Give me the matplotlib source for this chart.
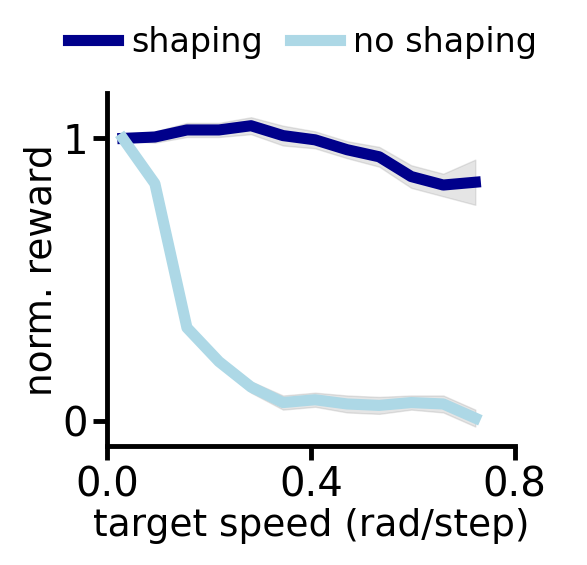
import numpy as np
import matplotlib
matplotlib.use("Agg")
import matplotlib.pyplot as plt

# target speeds (rad/step)
speed = np.pi / 100 * (1 + 2 * np.arange(12))

shaping = [1.0, 1.005, 1.03, 1.03, 1.045, 1.01, 0.995, 0.96, 0.935, 0.865, 0.835, 0.845]
shaping_err = [0.01, 0.02, 0.025, 0.025, 0.03, 0.035, 0.03, 0.03, 0.035, 0.04, 0.04, 0.08]
no_shaping = [1.0, 0.84, 0.33, 0.21, 0.12, 0.065, 0.075, 0.06, 0.055, 0.065, 0.06, 0.01]
no_shaping_err = [0.01, 0.015, 0.015, 0.015, 0.02, 0.025, 0.025, 0.03, 0.03, 0.025, 0.03, 0.03]

plt.rcParams['font.size'] = 29
fig, ax = plt.subplots(figsize=(5.87, 5.65), dpi=100)
fig.subplots_adjust(left=0.182, right=0.877, bottom=0.21, top=0.835)

for y, e, c, lab in [(shaping, shaping_err, 'darkblue', 'shaping'),
                     (no_shaping, no_shaping_err, 'lightblue', 'no shaping')]:
    y = np.array(y); e = np.array(e)
    ax.fill_between(speed, y - e, y + e, color='gray', alpha=0.2)
    ax.plot(speed, y, color=c, lw=8, label=lab)

ax.set_xlim(0, 0.8)
ax.set_ylim(-0.09, 1.16)
ax.set_xticks([0.0, 0.4, 0.8])
ax.set_yticks([0, 1])
ax.set_xlabel('target speed (rad/step)', fontsize=27, labelpad=2)
ax.set_ylabel('norm. reward', fontsize=27, labelpad=2)
for s in ['top', 'right']:
    ax.spines[s].set_visible(False)
for s in ['left', 'bottom']:
    ax.spines[s].set_linewidth(3.5)
ax.tick_params(width=3.5, length=10)
ax.legend(loc='lower center', bbox_to_anchor=(0.48, 1.06), ncol=2, frameon=False,
          fontsize=24, handlelength=1.5, columnspacing=0.8, handletextpad=0.4,
          borderaxespad=0)
fig.savefig('out.png')
